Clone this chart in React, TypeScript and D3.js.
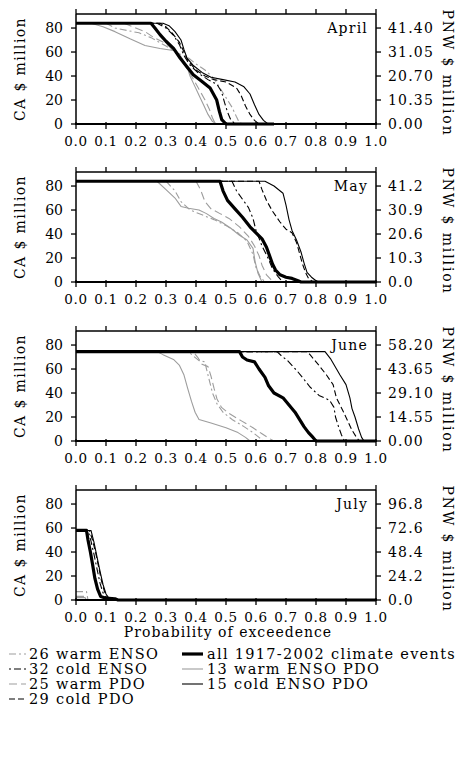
import React from "react";
import * as d3 from "d3";

type Pt = [number, number];

const months = ["April", "May", "June", "July"];
const caTicks = [0, 20, 40, 60, 80];
const probTicks = [0, 0.1, 0.2, 0.3, 0.4, 0.5, 0.6, 0.7, 0.8, 0.9, 1.0];
const probTickLabels = ["0.0", "0.1", "0.2", "0.3", "0.4", "0.5", "0.6", "0.7", "0.8", "0.9", "1.0"];
const pnwAt80 = [41.4, 41.2, 58.2, 96.8];
const pnwDecimals = [2, 1, 2, 1];
const caMax = 91.7;

// ---------- April ----------
const aprilWarmENSO: Pt[] = [[0,84],[0.10,84],[0.13,80],[0.17,78],[0.21,76],[0.25,72],[0.30,65],[0.34,59],[0.37,56],[0.40,50],[0.43,45],[0.46,38],[0.48,30],[0.50,22],[0.52,14],[0.535,6],[0.545,1],[0.56,0],[0.66,0]];
const aprilColdENSO: Pt[] = [[0,84],[0.27,84],[0.30,80],[0.325,74],[0.345,66],[0.36,57],[0.38,49],[0.41,42],[0.44,37],[0.47,33],[0.485,27],[0.495,18],[0.505,10],[0.515,4],[0.53,0],[0.66,0]];
const aprilWarmPDO: Pt[] = [[0,84],[0.16,84],[0.19,81],[0.23,77],[0.26,72],[0.30,67],[0.33,60],[0.35,54],[0.37,46],[0.39,38],[0.41,29],[0.43,20],[0.445,12],[0.455,5],[0.465,0],[0.66,0]];
const aprilColdPDO: Pt[] = [[0,84],[0.28,84],[0.30,81],[0.32,76],[0.345,68],[0.36,60],[0.375,52],[0.40,45],[0.43,40],[0.46,37],[0.50,35],[0.535,30],[0.55,24],[0.565,15],[0.58,8],[0.595,3],[0.61,0],[0.66,0]];
const aprilAll: Pt[] = [[0,84],[0.25,84],[0.263,80],[0.28,74.5],[0.30,69],[0.325,63],[0.347,55],[0.369,48],[0.391,41],[0.42,35.5],[0.447,30],[0.469,20],[0.478,10.5],[0.486,3.6],[0.5,0],[0.66,0]];
const aprilWarmENSOPDO: Pt[] = [[0,84],[0.05,84],[0.09,81],[0.13,77],[0.18,71],[0.23,65.5],[0.28,63],[0.33,61],[0.35,56],[0.37,48],[0.38,40],[0.395,32],[0.41,24],[0.425,16],[0.44,8],[0.455,2],[0.47,0],[0.66,0]];
const aprilColdENSOPDO: Pt[] = [[0,84],[0.29,84],[0.31,82],[0.33,77],[0.35,70],[0.36,62],[0.37,55],[0.39,49],[0.42,43],[0.45,39],[0.49,37],[0.53,35],[0.56,31],[0.58,25],[0.595,16],[0.61,8],[0.625,3],[0.64,0],[0.66,0]];

// ---------- May ----------
const mayWarmENSO: Pt[] = [[0,84],[0.30,84],[0.33,76],[0.35,67],[0.38,60],[0.42,56],[0.46,52],[0.50,47],[0.54,41],[0.57,34],[0.59,23],[0.60,12],[0.615,4],[0.63,0],[1,0]];
const mayColdENSO: Pt[] = [[0,84],[0.52,84],[0.535,76],[0.555,69],[0.575,62],[0.59,53],[0.60,43],[0.62,30],[0.64,20],[0.655,11],[0.675,4],[0.69,0],[1,0]];
const mayWarmPDO: Pt[] = [[0,84],[0.40,84],[0.415,77],[0.43,67],[0.45,61],[0.48,57],[0.51,53],[0.545,46],[0.575,38],[0.595,30],[0.61,22],[0.62,14],[0.635,6],[0.65,2],[0.67,0],[1,0]];
const mayColdPDO: Pt[] = [[0,84],[0.61,84],[0.62,77],[0.635,68],[0.655,59],[0.68,50],[0.70,44],[0.72,41],[0.735,33],[0.745,24],[0.755,15],[0.765,8],[0.775,3],[0.79,0],[1,0]];
const mayAll: Pt[] = [[0,84],[0.48,84],[0.49,76],[0.505,68],[0.53,61],[0.555,54],[0.58,46],[0.60,41],[0.62,36],[0.635,29],[0.645,22],[0.655,15],[0.665,10],[0.68,6],[0.70,4],[0.72,3],[0.74,1],[0.75,0],[1,0]];
const mayWarmENSOPDO: Pt[] = [[0,84],[0.27,84],[0.30,77],[0.33,70],[0.35,63],[0.375,61.5],[0.41,60],[0.435,57],[0.46,53],[0.485,50],[0.515,45],[0.545,39],[0.57,35],[0.59,28],[0.597,17],[0.607,7],[0.62,0],[1,0]];
const mayColdENSOPDO: Pt[] = [[0,84],[0.63,84],[0.66,80],[0.69,74],[0.70,64],[0.71,52],[0.72,43],[0.735,35],[0.75,25],[0.76,16],[0.77,8],[0.785,4],[0.80,1],[0.81,0],[1,0]];

// ---------- June ----------
const juneWarmENSO: Pt[] = [[0,74.5],[0.375,74.5],[0.39,71],[0.41,67],[0.43,66],[0.435,60],[0.445,50],[0.455,40],[0.47,31],[0.49,24],[0.52,18],[0.56,12],[0.59,7],[0.61,3],[0.625,0],[1,0]];
const juneColdENSO: Pt[] = [[0,74.5],[0.67,74.5],[0.685,71],[0.705,67],[0.735,59],[0.758,52],[0.78,45],[0.81,38],[0.845,34],[0.86,28],[0.865,20],[0.875,12],[0.885,5],[0.895,0],[1,0]];
const juneWarmPDO: Pt[] = [[0,74.5],[0.39,74.5],[0.405,70],[0.42,64],[0.44,62],[0.45,54],[0.46,44],[0.47,35],[0.485,28],[0.51,23],[0.55,17],[0.59,11],[0.62,6],[0.645,2],[0.66,0],[1,0]];
const juneColdPDO: Pt[] = [[0,74.5],[0.77,74.5],[0.78,72],[0.81,63],[0.835,55],[0.857,47],[0.868,36],[0.89,25],[0.905,17],[0.92,9],[0.935,3],[0.945,0],[1,0]];
const juneAll: Pt[] = [[0,74.5],[0.545,74.5],[0.555,70],[0.57,67.5],[0.595,66],[0.61,60],[0.63,53],[0.642,46],[0.66,40],[0.69,36],[0.71,30],[0.73,24],[0.745,18],[0.76,12],[0.775,7],[0.79,3],[0.80,0],[1,0]];
const juneWarmENSOPDO: Pt[] = [[0,74.5],[0.27,74.5],[0.29,72],[0.325,68],[0.345,63],[0.36,55],[0.372,44],[0.385,33],[0.397,24],[0.41,18],[0.45,15],[0.50,11],[0.54,7],[0.565,3],[0.58,0],[1,0]];
const juneColdENSOPDO: Pt[] = [[0,74.5],[0.83,74.5],[0.85,68],[0.88,55],[0.90,47],[0.913,36],[0.92,27],[0.93,20],[0.942,10],[0.952,3],[0.96,0],[1,0]];

// ---------- July ----------
const julyWarmENSO: Pt[] = [[0,7],[0.035,7],[0.04,0],[1,0]];
const julyColdENSO: Pt[] = [[0,58],[0.04,58],[0.05,49],[0.06,38],[0.07,26],[0.08,14],[0.09,6],[0.10,2],[0.115,0],[1,0]];
const julyWarmPDO: Pt[] = [[0,3],[0.03,3],[0.035,0],[1,0]];
const julyColdPDO: Pt[] = [[0,58],[0.045,58],[0.055,50],[0.065,40],[0.075,28],[0.085,16],[0.095,7],[0.105,2],[0.12,0],[1,0]];
const julyAll: Pt[] = [[0,58],[0.035,58],[0.04,50],[0.048,40],[0.055,30],[0.063,18],[0.072,9],[0.082,3],[0.10,1.5],[0.13,1],[0.14,0],[1,0]];
const julyWarmENSOPDO: Pt[] = [[0,2],[0.03,2],[0.035,0],[1,0]];
const julyColdENSOPDO: Pt[] = [[0,58],[0.05,58],[0.06,48],[0.07,36],[0.08,24],[0.09,13],[0.10,5],[0.11,1.5],[0.13,0],[1,0]];

const seriesLabels = [
  "26 warm ENSO",
  "32 cold ENSO",
  "25 warm PDO",
  "29 cold PDO",
  "all 1917-2002 climate events",
  "13 warm ENSO PDO",
  "15 cold ENSO PDO",
];

const monthData: Pt[][][] = [
  [aprilWarmENSO, aprilColdENSO, aprilWarmPDO, aprilColdPDO, aprilAll, aprilWarmENSOPDO, aprilColdENSOPDO],
  [mayWarmENSO, mayColdENSO, mayWarmPDO, mayColdPDO, mayAll, mayWarmENSOPDO, mayColdENSOPDO],
  [juneWarmENSO, juneColdENSO, juneWarmPDO, juneColdPDO, juneAll, juneWarmENSOPDO, juneColdENSOPDO],
  [julyWarmENSO, julyColdENSO, julyWarmPDO, julyColdPDO, julyAll, julyWarmENSOPDO, julyColdENSOPDO],
];

const GRAY = "#9d9d9d";
const styles = [
  { color: GRAY, width: 1.1, dash: "7,3,2,3" },
  { color: "#000", width: 1.1, dash: "2,3,7,3" },
  { color: GRAY, width: 1.1, dash: "8,4" },
  { color: "#000", width: 1.1, dash: "6,3" },
  { color: "#000", width: 3.2, dash: "" },
  { color: GRAY, width: 1.1, dash: "" },
  { color: "#000", width: 1.1, dash: "" },
];
const drawOrder = [0, 2, 5, 4, 1, 3, 6];

const FONT = "DejaVu Serif";
const X0 = 76;
const X1 = 376;
const PH = 110;
const tops = [14, 172, 331, 490];

function Panel({ idx }: { idx: number }) {
  const top = tops[idx];
  const x = d3.scaleLinear().domain([0, 1]).range([X0, X1]);
  const y = d3.scaleLinear().domain([0, caMax]).range([top + PH, top]);
  const pnwMax = (pnwAt80[idx] * caMax) / 80;
  const yR = d3.scaleLinear().domain([0, pnwMax]).range([top + PH, top]);
  const pnwTicks = caTicks.map((c) => (pnwAt80[idx] * c) / 80);
  const line = d3
    .line<Pt>()
    .x((d) => x(d[0]))
    .y((d) => y(d[1]))
    .curve(d3.curveLinear);
  const bottom = top + PH;
  const midY = top + PH / 2;
  return (
    <g>
      <defs>
        <clipPath id={`clip${idx}`}>
          <rect x={X0} y={top} width={X1 - X0} height={PH + 2} />
        </clipPath>
      </defs>
      <g clipPath={`url(#clip${idx})`}>
        {drawOrder.map((si) => (
          <path
            key={si}
            d={line(monthData[idx][si]) || ""}
            fill="none"
            stroke={styles[si].color}
            strokeWidth={styles[si].width}
            strokeDasharray={styles[si].dash || undefined}
            strokeLinejoin="round"
          />
        ))}
      </g>
      <line x1={X0} x2={X1} y1={top} y2={top} stroke="#000" strokeWidth={1.5} />
      <line x1={X0} x2={X0} y1={top} y2={bottom} stroke="#000" strokeWidth={1.5} />
      <line x1={X1} x2={X1} y1={top} y2={bottom} stroke="#000" strokeWidth={1.5} />
      <line x1={X0 - 1} x2={X1 + 1} y1={bottom} y2={bottom} stroke="#000" strokeWidth={2} />
      {probTicks.map((t, i) => (
        <g key={i}>
          <line x1={x(t)} x2={x(t)} y1={top} y2={top - 5} stroke="#000" strokeWidth={1.3} />
          <line x1={x(t)} x2={x(t)} y1={bottom - 2} y2={bottom + 5} stroke="#000" strokeWidth={1.3} />
          <text
            x={x(t)}
            y={bottom + 22}
            textAnchor="middle"
            fontFamily={FONT}
            fontSize={13.5}
            letterSpacing={0.6}
          >
            {probTickLabels[i]}
          </text>
        </g>
      ))}
      {caTicks.map((t) => (
        <g key={t}>
          <line x1={X0} x2={X0 - 5} y1={y(t)} y2={y(t)} stroke="#000" strokeWidth={1.3} />
          <text
            x={63}
            y={y(t)}
            dy="0.36em"
            textAnchor="end"
            fontFamily={FONT}
            fontSize={14}
          >
            {t}
          </text>
        </g>
      ))}
      {pnwTicks.map((t, i) => (
        <g key={i}>
          <line x1={X1} x2={X1 + 5} y1={yR(t)} y2={yR(t)} stroke="#000" strokeWidth={1.3} />
          <text
            x={388}
            y={yR(t)}
            dy="0.36em"
            textAnchor="start"
            fontFamily={FONT}
            fontSize={14}
            letterSpacing={1.2}
          >
            {d3.format(`.${pnwDecimals[idx]}f`)(t)}
          </text>
        </g>
      ))}
      <text
        x={368}
        y={top + 19}
        textAnchor="end"
        fontFamily={FONT}
        fontSize={14}
        letterSpacing={1.2}
      >
        {months[idx]}
      </text>
      <text
        transform={`translate(20,${midY}) rotate(-90)`}
        textAnchor="middle"
        dy="0.35em"
        fontFamily={FONT}
        fontSize={14}
        letterSpacing={1.4}
      >
        CA $ million
      </text>
      <text
        transform={`translate(448,${midY + 4}) rotate(90)`}
        textAnchor="middle"
        dy="0.35em"
        fontFamily={FONT}
        fontSize={14}
        letterSpacing={1.9}
      >
        PNW $ million
      </text>
    </g>
  );
}

const legendCols = [
  [0, 1, 2, 3],
  [4, 5, 6],
];

export default function App() {
  const legendRowY = d3.scaleLinear().domain([0, 3]).range([654, 699]);
  return (
    <svg width={461} height={771} style={{ position: "absolute", left: 0, top: 0, background: "#fff" }}>
      <rect x={0} y={0} width={461} height={771} fill="#fff" />
      {months.map((m, i) => (
        <Panel key={m} idx={i} />
      ))}
      <text
        x={228}
        y={637}
        textAnchor="middle"
        fontFamily={FONT}
        fontSize={14}
        letterSpacing={1}
      >
        Probability of exceedence
      </text>
      {legendCols.map((col, ci) =>
        col.map((si, ri) => {
          const yy = legendRowY(ri);
          const lx0 = ci === 0 ? 9 : 182;
          const lx1 = ci === 0 ? 26 : 203;
          const tx = ci === 0 ? 29 : 207;
          return (
            <g key={si}>
              <line
                x1={lx0}
                x2={lx1}
                y1={yy}
                y2={yy}
                stroke={styles[si].color}
                strokeWidth={styles[si].width}
                strokeDasharray={styles[si].dash || undefined}
              />
              <text
                x={tx}
                y={yy}
                dy="0.35em"
                fontFamily={FONT}
                fontSize={14.5}
                letterSpacing={1.3}
              >
                {seriesLabels[si]}
              </text>
            </g>
          );
        })
      )}
    </svg>
  );
}
